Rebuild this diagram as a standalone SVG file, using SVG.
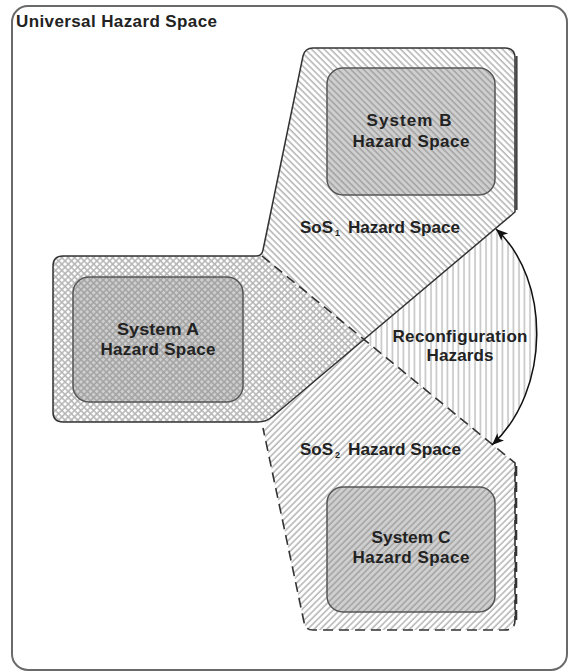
<svg xmlns="http://www.w3.org/2000/svg" width="569" height="672" viewBox="0 0 569 672">
  <defs>
    <!-- hatch lines running top-left to bottom-right -->
    <pattern id="hatchBack" width="4.5" height="4.5" patternUnits="userSpaceOnUse" patternTransform="rotate(-45)">
      <line x1="1" y1="-1" x2="1" y2="6" stroke="#b4b4b4" stroke-width="1.5"/>
    </pattern>
    <!-- hatch lines running bottom-left to top-right -->
    <pattern id="hatchFwd" width="4.5" height="4.5" patternUnits="userSpaceOnUse" patternTransform="rotate(45)">
      <line x1="1" y1="-1" x2="1" y2="6" stroke="#b4b4b4" stroke-width="1.5"/>
    </pattern>
    <!-- darker variants for the system boxes -->
    <pattern id="boxBack" width="4.5" height="4.5" patternUnits="userSpaceOnUse" patternTransform="rotate(-45)">
      <line x1="1" y1="-1" x2="1" y2="6" stroke="#a2a2a2" stroke-width="1.5"/>
    </pattern>
    <pattern id="boxFwd" width="4.5" height="4.5" patternUnits="userSpaceOnUse" patternTransform="rotate(45)">
      <line x1="1" y1="-1" x2="1" y2="6" stroke="#a2a2a2" stroke-width="1.5"/>
    </pattern>
    <!-- vertical hatch for the reconfiguration wedge -->
    <pattern id="hatchVert" width="5.5" height="10" patternUnits="userSpaceOnUse">
      <line x1="2" y1="0" x2="2" y2="10" stroke="#c4c4c4" stroke-width="1.6"/>
    </pattern>
    <marker id="arrowHead" markerWidth="14" markerHeight="12" refX="12" refY="5" orient="auto-start-reverse" markerUnits="userSpaceOnUse">
      <path d="M0,0 L12,5 L0,10 L3,5 Z" fill="#111"/>
    </marker>
    <style>
      .lbl { font-family: "Liberation Sans", Arial, sans-serif; font-weight: bold; font-size: 17px; fill: #222; }
      .mid { text-anchor: middle; }
      .sub { font-family: "Liberation Sans", Arial, sans-serif; font-weight: bold; font-size: 9px; fill: #222; }
      .box { stroke: #555; stroke-width: 1.5; }
      .solid { fill: none; stroke: #333; stroke-width: 1.5; }
      .dash { fill: none; stroke: #333; stroke-width: 1.6; stroke-dasharray: 10 6; }
    </style>
  </defs>

  <rect width="569" height="672" fill="#fff"/>

  <!-- universal hazard space frame -->
  <g id="universal">
    <rect x="12" y="6" width="555" height="664" rx="16" fill="#fff" stroke="#6a6a6a" stroke-width="2"/>
    <text class="lbl" x="16" y="27" textLength="201" lengthAdjust="spacing">Universal Hazard Space</text>
  </g>

  <!-- SoS1 hazard space (upper region) -->
  <g id="sos1">
    <path d="M262,256 L303,56 Q305,48 313,48 L505,48 Q515,48 515,58 L515,212 L363,340 Z" fill="#fff"/>
    <path d="M262,256 L303,56 Q305,48 313,48 L505,48 Q515,48 515,58 L515,212 L363,340 Z" fill="url(#hatchBack)"/>
    <text class="lbl" x="300" y="233">SoS</text>
    <text class="sub" x="335" y="236">1</text>
    <text class="lbl" x="348" y="233" textLength="112" lengthAdjust="spacingAndGlyphs">Hazard Space</text>
  </g>

  <!-- SoS2 hazard space (lower region) -->
  <g id="sos2">
    <path d="M363,340 L515,463 L515,620 Q515,630 505,630 L313,630 Q305,630 304,622 L263,428 L268,421 Z" fill="#fff"/>
    <path d="M363,340 L515,463 L515,620 Q515,630 505,630 L313,630 Q305,630 304,622 L263,428 L268,421 Z" fill="url(#hatchFwd)"/>
    <text class="lbl" x="300" y="455">SoS</text>
    <text class="sub" x="335" y="458">2</text>
    <text class="lbl" x="348" y="455" textLength="113" lengthAdjust="spacingAndGlyphs">Hazard Space</text>
  </g>

  <!-- overlap of both SoS spaces, holding system A -->
  <g id="overlap">
    <path d="M53,266 Q53,256 63,256 L262,256 L363,340 L272,417 Q266,422 258,422 L63,422 Q53,422 53,412 Z" fill="#fff"/>
    <path d="M53,266 Q53,256 63,256 L262,256 L363,340 L272,417 Q266,422 258,422 L63,422 Q53,422 53,412 Z" fill="url(#hatchBack)"/>
    <path d="M53,266 Q53,256 63,256 L262,256 L363,340 L272,417 Q266,422 258,422 L63,422 Q53,422 53,412 Z" fill="url(#hatchFwd)"/>
  </g>

  <!-- reconfiguration wedge -->
  <g id="reconfig">
    <path d="M363,340 L496,229 C551,280 551,390 492,445 Z" fill="#fff"/>
    <path d="M363,340 L496,229 C551,280 551,390 492,445 Z" fill="url(#hatchVert)"/>
    <text class="lbl mid" x="460" y="342" textLength="135" lengthAdjust="spacing">Reconfiguration</text>
    <text class="lbl mid" x="460" y="361" textLength="67" lengthAdjust="spacing">Hazards</text>
  </g>

  <!-- system hazard spaces -->
  <g id="systemA">
    <rect x="73" y="277" width="170" height="125" rx="16" fill="#cfcfcf"/>
    <rect x="73" y="277" width="170" height="125" rx="16" fill="url(#boxBack)"/>
    <rect x="73" y="277" width="170" height="125" rx="16" fill="url(#boxFwd)"/>
    <rect x="73" y="277" width="170" height="125" rx="16" fill="none" class="box"/>
    <text class="lbl mid" x="158" y="335" textLength="82" lengthAdjust="spacingAndGlyphs">System A</text>
    <text class="lbl mid" x="158" y="355" textLength="115" lengthAdjust="spacing">Hazard Space</text>
  </g>

  <g id="systemB">
    <rect x="327" y="68" width="168" height="127" rx="16" fill="#cfcfcf"/>
    <rect x="327" y="68" width="168" height="127" rx="16" fill="url(#boxBack)"/>
    <rect x="327" y="68" width="168" height="127" rx="16" fill="none" class="box"/>
    <text class="lbl mid" x="409" y="126" textLength="85" lengthAdjust="spacing">System B</text>
    <text class="lbl mid" x="411" y="147" textLength="117" lengthAdjust="spacing">Hazard Space</text>
  </g>

  <g id="systemC">
    <rect x="327" y="487" width="168" height="125" rx="16" fill="#cfcfcf"/>
    <rect x="327" y="487" width="168" height="125" rx="16" fill="url(#boxFwd)"/>
    <rect x="327" y="487" width="168" height="125" rx="16" fill="none" class="box"/>
    <text class="lbl mid" x="411" y="543" textLength="79" lengthAdjust="spacingAndGlyphs">System C</text>
    <text class="lbl mid" x="411" y="563" textLength="117" lengthAdjust="spacing">Hazard Space</text>
  </g>

  <!-- boundaries and the reconfiguration arrow -->
  <g id="connectors">
    <path class="solid" d="M53,266 Q53,256 63,256 L256,256 Q262,256 263,250 L303,56 Q305,48 313,48 L505,48 Q515,48 515,58 L515,212 L272,417 Q266,422 258,422 L63,422 Q53,422 53,412 Z"/>
    <path d="M516.5,56 L516.5,210" stroke="#444" stroke-width="2.2" fill="none"/>
    <path class="dash" d="M262,256 L515,463 L515,620 Q515,630 505,630 L313,630 Q305,630 304,622 L263,428"/>
    <path d="M516,466 L516,620" stroke="#333" stroke-width="2.6" stroke-dasharray="10 6" fill="none"/>
    <path d="M496,229 C551,280 551,390 492,445" fill="none" stroke="#111" stroke-width="1.5" marker-start="url(#arrowHead)" marker-end="url(#arrowHead)"/>
  </g>
</svg>
